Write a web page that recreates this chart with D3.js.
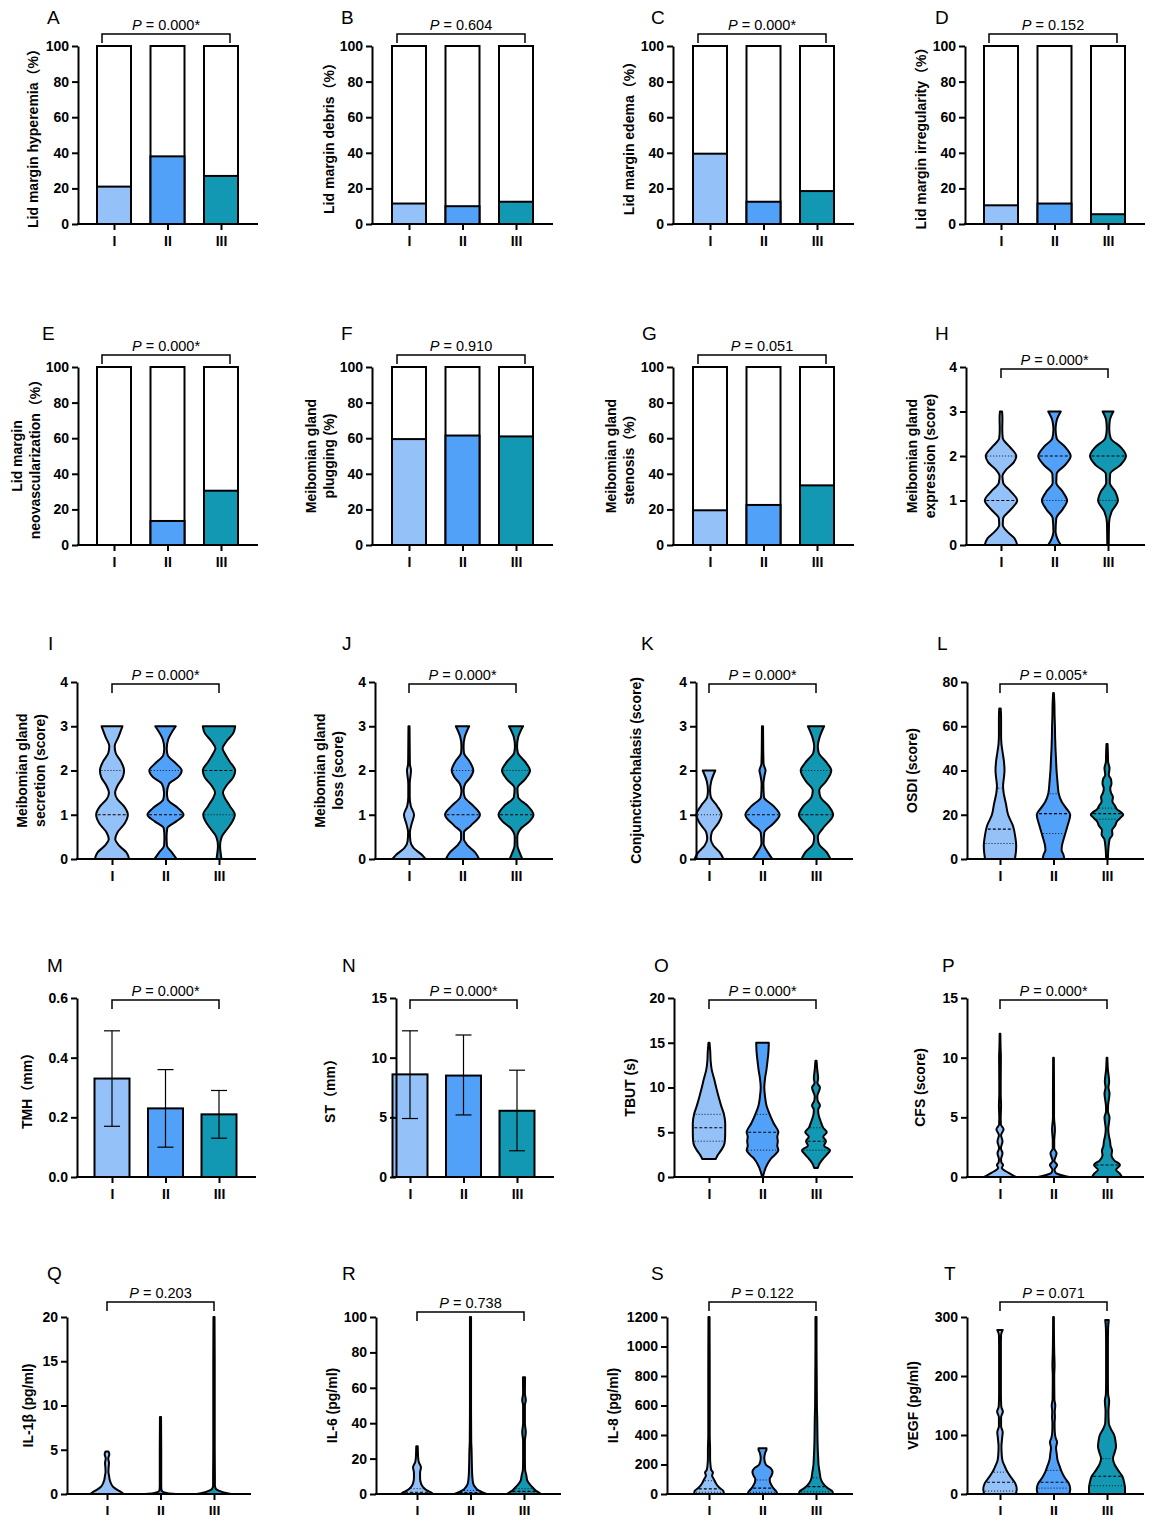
<!DOCTYPE html>
<html>
<head>
<meta charset="utf-8">
<script src="https://cdn.jsdelivr.net/npm/d3@7"></script>
<style>
  body { margin: 0; background: #fff; }
</style>
</head>
<body>
<div id="chart"></div>
<script>
var FONT = "Arial, 'Liberation Sans', 'Noto Sans CJK SC', sans-serif";
var groups = ["I", "II", "III"];
var fills = ["#94C2F8", "#52A1F8", "#1398B3"];

// stacked percentage panels (A-G), coloured part of each 100% bar
var pctHyperemia = [21, 38, 27];
var pctDebris = [11.5, 10, 12.5];
var pctEdema = [39.5, 12.5, 18.5];
var pctIrregularity = [10.5, 11.5, 5.5];
var pctNeovasc = [0, 13.5, 30.5];
var pctPlugging = [59.5, 61.5, 61];
var pctStenosis = [19.5, 22.5, 33.5];

// mean +/- sd bars (M, N)
var tmhMean = [0.33, 0.23, 0.21];
var tmhLow = [0.17, 0.10, 0.13];
var tmhHigh = [0.49, 0.36, 0.29];
var stMean = [8.6, 8.5, 5.55];
var stLow = [4.9, 5.2, 2.2];
var stHigh = [12.25, 11.9, 8.95];

// violin profiles: [value, relative density 0-1] per group
var vioExpression = [
  [[0,0.9],[0.15,0.75],[0.3,0.35],[0.45,0.1],[0.6,0.12],[0.8,0.55],[1,0.9],[1.2,0.55],[1.4,0.12],[1.55,0.08],[1.7,0.3],[1.85,0.7],[2,0.85],[2.2,0.5],[2.4,0.1],[2.6,0.07],[2.85,0.08],[3,0.06]],
  [[0,0.35],[0.15,0.15],[0.3,0.06],[0.6,0.1],[0.8,0.45],[1,0.7],[1.2,0.45],[1.4,0.1],[1.6,0.12],[1.8,0.6],[2,0.9],[2.2,0.6],[2.4,0.12],[2.6,0.06],[2.8,0.12],[3,0.35]],
  [[0,0.04],[0.5,0.06],[0.75,0.2],[1,0.55],[1.2,0.4],[1.4,0.1],[1.6,0.12],[1.8,0.7],[2,1],[2.2,0.7],[2.4,0.15],[2.6,0.07],[2.8,0.1],[3,0.3]]
];
var qExpression = [[null, 1, 2], [1, 2, null], [1, 2, null]];

var vioSecretion = [
  [[0,0.95],[0.15,0.8],[0.3,0.4],[0.45,0.18],[0.6,0.3],[0.8,0.7],[1,0.88],[1.2,0.65],[1.35,0.3],[1.5,0.17],[1.65,0.3],[1.85,0.6],[2,0.67],[2.2,0.5],[2.4,0.2],[2.55,0.15],[2.75,0.35],[3,0.58]],
  [[0,0.62],[0.15,0.35],[0.3,0.08],[0.5,0.06],[0.7,0.1],[0.85,0.6],[1,1],[1.15,0.7],[1.35,0.12],[1.5,0.08],[1.7,0.2],[1.85,0.7],[2,0.9],[2.15,0.6],[2.35,0.12],[2.5,0.07],[2.7,0.15],[3,0.57]],
  [[0,0.14],[0.3,0.06],[0.5,0.15],[0.7,0.5],[0.85,0.75],[1,0.88],[1.2,0.6],[1.4,0.3],[1.5,0.22],[1.65,0.4],[1.85,0.8],[2,0.9],[2.2,0.6],[2.4,0.3],[2.5,0.2],[2.65,0.4],[2.85,0.8],[3,0.9]]
];
var qSecretion = [[null, 1, 2], [null, 1, 2], [1, 2, null]];

var vioLoss = [
  [[0,0.92],[0.1,0.7],[0.25,0.25],[0.4,0.08],[0.6,0.05],[0.8,0.15],[1,0.28],[1.2,0.1],[1.4,0.04],[1.7,0.04],[1.9,0.09],[2,0.11],[2.15,0.05],[2.5,0.04],[3,0.03]],
  [[0,0.92],[0.15,0.7],[0.3,0.3],[0.45,0.08],[0.6,0.08],[0.75,0.45],[1,0.97],[1.2,0.6],[1.4,0.12],[1.55,0.06],[1.7,0.15],[1.85,0.45],[2,0.6],[2.2,0.4],[2.4,0.08],[2.55,0.06],[2.75,0.12],[3,0.37]],
  [[0,0.35],[0.15,0.2],[0.3,0.08],[0.5,0.07],[0.7,0.3],[0.85,0.75],[1,0.97],[1.2,0.65],[1.4,0.12],[1.6,0.08],[1.8,0.5],[2,0.78],[2.2,0.5],[2.4,0.1],[2.55,0.06],[2.75,0.12],[3,0.39]]
];
var qLoss = [[null, null, null], [null, 1, 2], [null, 1, 2]];

var vioConjunctivo = [
  [[0,0.8],[0.15,0.6],[0.3,0.25],[0.45,0.1],[0.6,0.15],[0.8,0.5],[1,0.7],[1.2,0.45],[1.4,0.1],[1.55,0.06],[1.75,0.12],[2,0.35]],
  [[0,0.55],[0.15,0.3],[0.35,0.06],[0.6,0.1],[0.8,0.6],[1,0.95],[1.2,0.6],[1.4,0.08],[1.7,0.05],[1.9,0.12],[2,0.17],[2.15,0.06],[2.5,0.04],[3,0.03]],
  [[0,0.8],[0.15,0.6],[0.35,0.15],[0.5,0.1],[0.7,0.4],[1,0.95],[1.2,0.7],[1.4,0.25],[1.55,0.18],[1.75,0.55],[2,0.85],[2.2,0.55],[2.4,0.15],[2.55,0.1],[2.75,0.2],[3,0.45]]
];
var qConjunctivo = [[1, null, null], [null, 1, null], [null, 1, 2]];

var vioOSDI = [
  [[0,0.83],[3,0.88],[6,0.9],[10,0.85],[15,0.72],[20,0.45],[25,0.33],[30,0.2],[33,0.17],[37,0.22],[40,0.25],[44,0.22],[48,0.15],[52,0.08],[56,0.06],[60,0.06],[64,0.06],[68,0.04]],
  [[0,0.6],[2,0.55],[4,0.45],[6,0.47],[10,0.6],[15,0.78],[20,0.93],[23,0.7],[26,0.45],[30,0.28],[35,0.22],[40,0.17],[45,0.14],[50,0.11],[55,0.09],[60,0.08],[65,0.06],[70,0.05],[75,0.02]],
  [[0,0.05],[5,0.08],[9,0.15],[11,0.3],[13,0.28],[15,0.45],[17,0.55],[19,0.8],[20,0.9],[21,0.8],[22.5,0.55],[24,0.45],[26,0.3],[28,0.33],[30,0.22],[32,0.18],[34,0.25],[36,0.22],[38,0.1],[41,0.14],[44,0.06],[48,0.05],[52,0.03]]
];
var qOSDI = [[7, 13.5, 32], [11.5, 20.5, 29.5], [18, 20.5, 23]];

var vioTBUT = [
  [[2,0.37],[2.5,0.5],[3,0.68],[3.5,0.82],[4,0.88],[5,0.9],[6,0.9],[7,0.83],[8,0.67],[9,0.53],[10,0.4],[11,0.28],[12,0.15],[13,0.09],[14,0.07],[15,0.03]],
  [[0,0.02],[1,0.17],[2,0.45],[2.5,0.7],[3,0.88],[3.5,0.82],[4,0.85],[4.5,0.82],[5,0.88],[6,0.62],[7,0.4],[8,0.22],[9,0.14],[10,0.1],[11,0.14],[12,0.22],[13,0.28],[14,0.33],[15,0.35]],
  [[1,0.1],[1.5,0.2],[2,0.38],[2.5,0.6],[3,0.78],[3.5,0.45],[4,0.55],[4.5,0.4],[5,0.6],[5.5,0.4],[6,0.3],[7,0.14],[7.5,0.12],[8,0.22],[8.5,0.1],[9,0.07],[10,0.22],[10.5,0.08],[11,0.12],[12,0.07],[13,0.03]]
];
var qTBUT = [[4, 5.5, 7], [3, 5, 7], [3, 4, 5.5]];

var vioCFS = [
  [[0,0.88],[0.25,0.6],[0.5,0.3],[0.75,0.1],[1,0.17],[1.25,0.07],[1.5,0.06],[2,0.14],[2.4,0.05],[3,0.14],[3.5,0.06],[4,0.2],[4.4,0.05],[5,0.04],[6,0.06],[7,0.04],[8,0.04],[10,0.05],[11,0.03],[12,0.02]],
  [[0,0.88],[0.15,0.45],[0.35,0.12],[0.6,0.06],[1,0.2],[1.35,0.05],[2,0.17],[2.4,0.04],[3,0.04],[4,0.08],[5,0.03],[7,0.03],[10,0.02]],
  [[0,0.83],[0.3,0.7],[0.6,0.5],[1,0.72],[1.4,0.4],[1.8,0.25],[2.2,0.28],[2.6,0.2],[3,0.17],[3.5,0.1],[4,0.07],[5,0.14],[5.5,0.05],[6,0.06],[7,0.14],[7.5,0.08],[8,0.12],[9,0.05],[10,0.02]]
];
var qCFS = [[null, null, null], [null, null, null], [null, 1, null]];

var vioIL1b = [
  [[0,0.93],[0.2,0.8],[0.5,0.55],[0.8,0.35],[1.2,0.22],[1.6,0.15],[2,0.12],[2.5,0.08],[3,0.09],[3.5,0.11],[4,0.07],[4.5,0.13],[4.8,0.08]],
  [[0,0.85],[0.1,0.4],[0.25,0.12],[0.5,0.05],[1,0.04],[3,0.04],[5,0.04],[8.7,0.03]],
  [[0,0.95],[0.15,0.6],[0.35,0.3],[0.6,0.1],[1,0.05],[2,0.05],[5,0.04],[10,0.04],[15,0.04],[20,0.03]]
];
var qIL1b = [[null, null, null], [null, null, null], [null, null, null]];

var vioIL6 = [
  [[0,0.9],[1,0.75],[2,0.55],[4,0.33],[6,0.22],[9,0.17],[12,0.17],[15,0.22],[18,0.1],[21,0.06],[24,0.05],[27,0.04]],
  [[0,0.9],[1,0.65],[2,0.45],[4,0.25],[6,0.15],[10,0.1],[15,0.08],[20,0.07],[25,0.06],[30,0.04],[50,0.03],[100,0.03]],
  [[0,0.95],[1,0.8],[2,0.65],[4,0.45],[6,0.28],[8,0.17],[10,0.14],[14,0.06],[20,0.05],[30,0.05],[35,0.1],[40,0.05],[50,0.05],[53,0.1],[57,0.05],[66,0.06]]
];
var qIL6 = [[0.5, 1, 3], [0.3, 0.8, 2], [0.5, 1.5, 3]];

var vioIL8 = [
  [[0,0.83],[20,0.8],[40,0.6],[60,0.45],[80,0.35],[100,0.27],[125,0.17],[145,0.22],[165,0.12],[200,0.08],[250,0.06],[300,0.06],[400,0.04],[800,0.04],[1200,0.03]],
  [[0,0.83],[20,0.75],[40,0.6],[60,0.5],[80,0.42],[100,0.4],[125,0.5],[150,0.56],[175,0.45],[200,0.18],[240,0.1],[280,0.15],[300,0.22],[310,0.22]],
  [[0,0.95],[20,0.9],[40,0.65],[60,0.47],[80,0.35],[100,0.27],[150,0.2],[200,0.14],[250,0.12],[300,0.1],[400,0.08],[500,0.07],[600,0.05],[800,0.04],[1000,0.03],[1200,0.03]]
];
var qIL8 = [[12, 35, 90], [12, 40, 95], [15, 50, 110]];

var vioVEGF = [
  [[0,0.88],[8,0.93],[18,0.85],[28,0.62],[38,0.4],[48,0.25],[55,0.15],[65,0.1],[80,0.08],[95,0.12],[105,0.15],[115,0.06],[130,0.06],[140,0.16],[148,0.07],[170,0.05],[200,0.05],[250,0.05],[270,0.06],[278,0.15]],
  [[0,0.88],[8,0.93],[18,0.85],[28,0.62],[38,0.45],[48,0.33],[58,0.22],[68,0.18],[78,0.14],[88,0.2],[95,0.12],[105,0.07],[120,0.06],[130,0.08],[140,0.07],[150,0.1],[160,0.05],[200,0.04],[218,0.06],[240,0.04],[300,0.02]],
  [[0,1],[10,1],[20,0.95],[30,0.85],[40,0.62],[50,0.42],[60,0.33],[70,0.42],[80,0.5],[90,0.47],[100,0.4],[110,0.22],[120,0.1],[140,0.08],[158,0.12],[170,0.06],[200,0.05],[250,0.05],[280,0.06],[295,0.1]]
];
var qVEGF = [[5, 20, 37], [10, 20, 40], [14, 30, 60]];

// tick values
var ticksPct = [0, 20, 40, 60, 80, 100];
var ticksScore = [0, 1, 2, 3, 4];
var ticksOSDI = [0, 20, 40, 60, 80];
var ticksTMH = [0, 0.2, 0.4, 0.6];
var ticksST = [0, 5, 10, 15];
var ticksTBUT = [0, 5, 10, 15, 20];
var ticksCFS = [0, 5, 10, 15];
var ticksIL1b = [0, 5, 10, 15, 20];
var ticksIL6 = [0, 20, 40, 60, 80, 100];
var ticksIL8 = [0, 200, 400, 600, 800, 1000, 1200];
var ticksVEGF = [0, 100, 200, 300];

var pValues = ["0.000*", "0.604", "0.000*", "0.152", "0.000*", "0.910", "0.051", "0.000*",
               "0.000*", "0.000*", "0.000*", "0.005*", "0.000*", "0.000*", "0.000*", "0.000*",
               "0.203", "0.738", "0.122", "0.071"];

// layout
var rowTop = [46, 367, 682, 998, 1317];
var rowBottom = [224, 545, 859, 1177, 1494];
var letterBase = [24, 340, 650, 972, 1280];

var panels = [
  {id: "A", type: "stack", row: 0, vals: pctHyperemia, ticks: ticksPct, axisX: 78, c1: 114, lx: [33], lab: ["Lid margin hyperemia（%）"], letX: 47, br: "stack"},
  {id: "B", type: "stack", row: 0, vals: pctDebris, ticks: ticksPct, axisX: 372, c1: 409, lx: [329], lab: ["Lid margin debris（%）"], letX: 341, br: "stack"},
  {id: "C", type: "stack", row: 0, vals: pctEdema, ticks: ticksPct, axisX: 673, c1: 710, lx: [629], lab: ["Lid margin edema（%）"], letX: 651, br: "stack"},
  {id: "D", type: "stack", row: 0, vals: pctIrregularity, ticks: ticksPct, axisX: 965, c1: 1001, lx: [921], lab: ["Lid margin irregularity（%）"], letX: 935, br: "stack"},
  {id: "E", type: "stack", row: 1, vals: pctNeovasc, ticks: ticksPct, axisX: 78, c1: 114, lx: [17, 35], lab: ["Lid margin", "neovascularization（%）"], letX: 42, br: "stack"},
  {id: "F", type: "stack", row: 1, vals: pctPlugging, ticks: ticksPct, axisX: 372, c1: 409, lx: [311, 329], lab: ["Meibomian gland", "plugging (%)"], letX: 341, br: "stack"},
  {id: "G", type: "stack", row: 1, vals: pctStenosis, ticks: ticksPct, axisX: 673, c1: 710, lx: [611, 629], lab: ["Meibomian gland", "stenosis（%）"], letX: 642, br: "stack"},
  {id: "H", type: "violin", row: 1, vio: vioExpression, q: qExpression, ticks: ticksScore, axisX: 966, c1: 1001, lx: [912, 930], lab: ["Meibomian gland", "expression (score)"], letX: 935, br: "in"},
  {id: "I", type: "violin", row: 2, vio: vioSecretion, q: qSecretion, ticks: ticksScore, axisX: 77, c1: 112, lx: [22, 40], lab: ["Meibomian gland", "secretion (score)"], letX: 48, br: "in"},
  {id: "J", type: "violin", row: 2, vio: vioLoss, q: qLoss, ticks: ticksScore, axisX: 375, c1: 409, lx: [320, 338], lab: ["Meibomian gland", "loss (score)"], letX: 342, br: "in"},
  {id: "K", type: "violin", row: 2, vio: vioConjunctivo, q: qConjunctivo, ticks: ticksScore, axisX: 696, c1: 709, lx: [636], lab: ["Conjunctivochalasis (score)"], letX: 641, br: "in"},
  {id: "L", type: "violin", row: 2, vio: vioOSDI, q: qOSDI, ticks: ticksOSDI, axisX: 967, c1: 1000, lx: [912], lab: ["OSDI (score)"], letX: 937, br: "in"},
  {id: "M", type: "bar", row: 3, mean: tmhMean, lo: tmhLow, hi: tmhHigh, ticks: ticksTMH, fmt: d3.format(".1f"), axisX: 77, c1: 112, lx: [27], lab: ["TMH（mm）"], letX: 47, br: "in"},
  {id: "N", type: "bar", row: 3, mean: stMean, lo: stLow, hi: stHigh, ticks: ticksST, axisX: 396, c1: 410, lx: [330], lab: ["ST（mm）"], letX: 342, br: "in"},
  {id: "O", type: "violin", row: 3, vio: vioTBUT, q: qTBUT, ticks: ticksTBUT, axisX: 674, c1: 709, lx: [630], lab: ["TBUT (s)"], letX: 654, br: "in"},
  {id: "P", type: "violin", row: 3, vio: vioCFS, q: qCFS, ticks: ticksCFS, axisX: 967, c1: 1000, lx: [920], lab: ["CFS (score)"], letX: 942, br: "in"},
  {id: "Q", type: "violin", row: 4, vio: vioIL1b, q: qIL1b, ticks: ticksIL1b, axisX: 67, c1: 107, lx: [28], lab: ["IL-1β (pg/ml)"], letX: 47, br: "high"},
  {id: "R", type: "violin", row: 4, vio: vioIL6, q: qIL6, ticks: ticksIL6, axisX: 376, c1: 417, lx: [332], lab: ["IL-6 (pg/ml)"], letX: 342, br: "mid"},
  {id: "S", type: "violin", row: 4, vio: vioIL8, q: qIL8, ticks: ticksIL8, axisX: 667, c1: 709, lx: [613], lab: ["IL-8 (pg/ml)"], letX: 651, br: "high"},
  {id: "T", type: "violin", row: 4, vio: vioVEGF, q: qVEGF, ticks: ticksVEGF, axisX: 967, c1: 1000, lx: [913], lab: ["VEGF (pg/ml)"], letX: 944, br: "high"}
];

var svg = d3.select("#chart").append("svg")
  .attr("width", 1157).attr("height", 1515)
  .style("font-family", FONT);

var wScale = d3.scaleLinear().domain([0, 1]).range([0, 18]);

function widthAt(prof, v) {
  for (var i = 0; i < prof.length - 1; i++) {
    if (v >= prof[i][0] && v <= prof[i + 1][0]) {
      var t = (v - prof[i][0]) / (prof[i + 1][0] - prof[i][0]);
      return prof[i][1] + t * (prof[i + 1][1] - prof[i][1]);
    }
  }
  return 0;
}

panels.forEach(function(p, pi) {
  var g = svg.append("g");
  var top = rowTop[p.row], bottom = rowBottom[p.row];
  var y = d3.scaleLinear().domain([p.ticks[0], p.ticks[p.ticks.length - 1]]).range([bottom, top]);
  var x = d3.scalePoint().domain(groups).range([p.c1, p.c1 + 107]);

  // marks
  if (p.type === "stack") {
    groups.forEach(function(k, i) {
      g.append("rect").attr("x", x(k) - 17).attr("width", 34)
        .attr("y", y(100)).attr("height", y(0) - y(100))
        .attr("fill", "#fff").attr("stroke", "#000").attr("stroke-width", 2);
      g.append("rect").attr("x", x(k) - 17).attr("width", 34)
        .attr("y", y(p.vals[i])).attr("height", y(0) - y(p.vals[i]))
        .attr("fill", fills[i]).attr("stroke", "#000").attr("stroke-width", 2);
    });
  } else if (p.type === "bar") {
    groups.forEach(function(k, i) {
      g.append("rect").attr("x", x(k) - 17.5).attr("width", 35)
        .attr("y", y(p.mean[i])).attr("height", y(0) - y(p.mean[i]))
        .attr("fill", fills[i]).attr("stroke", "#000").attr("stroke-width", 2);
      g.append("line").attr("x1", x(k)).attr("x2", x(k))
        .attr("y1", y(p.lo[i])).attr("y2", y(p.hi[i]))
        .attr("stroke", "#000").attr("stroke-width", 1.2);
      [p.lo[i], p.hi[i]].forEach(function(v) {
        g.append("line").attr("x1", x(k) - 8).attr("x2", x(k) + 8)
          .attr("y1", y(v)).attr("y2", y(v))
          .attr("stroke", "#000").attr("stroke-width", 1.2);
      });
    });
  } else {
    groups.forEach(function(k, i) {
      var cx = x(k), prof = p.vio[i];
      var area = d3.area().curve(d3.curveMonotoneY)
        .y(d => y(d[0]))
        .x0(d => cx - wScale(d[1]))
        .x1(d => cx + wScale(d[1]));
      g.append("path").attr("d", area(prof))
        .attr("fill", fills[i]).attr("stroke", "#000")
        .attr("stroke-width", 2).attr("stroke-linejoin", "round");
      p.q[i].forEach(function(v, j) {
        if (v === null) return;
        var w = wScale(widthAt(prof, v)) - 1.5;
        if (w <= 0) return;
        g.append("line").attr("x1", cx - w).attr("x2", cx + w)
          .attr("y1", y(v)).attr("y2", y(v))
          .attr("stroke", "#000").attr("stroke-width", j === 1 ? 1.1 : 0.9)
          .attr("stroke-dasharray", j === 1 ? "3,2" : "1,2");
      });
    });
  }

  // y axis
  var ya = d3.axisLeft(y).tickValues(p.ticks).tickSize(6).tickSizeOuter(0).tickPadding(3)
    .tickFormat(p.fmt || d3.format("d"));
  var gy = g.append("g").attr("transform", `translate(${p.axisX},0)`).call(ya)
    .attr("font-family", FONT);
  gy.select(".domain").attr("stroke-width", 2);
  gy.selectAll(".tick line").attr("stroke-width", 2);
  gy.selectAll(".tick text").attr("font-size", 14).attr("font-weight", "bold").attr("fill", "#000");

  // x axis
  var xa = d3.axisBottom(x).tickSize(6).tickPadding(6);
  var gx = g.append("g").attr("transform", `translate(0,${bottom})`).call(xa)
    .attr("font-family", FONT);
  gx.select(".domain").remove();
  gx.selectAll(".tick line").attr("stroke-width", 2);
  gx.selectAll(".tick text").attr("font-size", 14).attr("font-weight", "bold").attr("fill", "#000");
  gx.append("line").attr("x1", p.axisX - 1).attr("x2", p.c1 + 107 + 37)
    .attr("stroke", "#000").attr("stroke-width", 2);

  // y label
  p.lab.forEach(function(t, j) {
    g.append("text")
      .attr("transform", `translate(${p.lx[j]},${(top + bottom) / 2}) rotate(-90)`)
      .attr("text-anchor", "middle").attr("dy", "0.35em")
      .attr("font-size", 14).attr("font-weight", "bold")
      .text(t);
  });

  // panel letter
  g.append("text").attr("x", p.letX).attr("y", letterBase[p.row])
    .attr("font-size", 19).text(p.id);

  // significance bracket
  var bx1 = x("I"), bx2 = x("III"), bt = top + 2;
  if (p.br === "stack") { bx1 -= 12; bx2 += 9; bt = top - 12; }
  if (p.br === "high") bt = top - 15;
  if (p.br === "mid") bt = top - 5;
  g.append("path")
    .attr("d", `M${bx1},${bt + 9}V${bt}H${bx2}V${bt + 9}`)
    .attr("fill", "none").attr("stroke", "#000").attr("stroke-width", 1.5);
  var pt = g.append("text").attr("x", (bx1 + bx2) / 2).attr("y", bt - 4)
    .attr("text-anchor", "middle").attr("font-size", 14.5);
  pt.append("tspan").attr("font-style", "italic").text("P");
  pt.append("tspan").text(" = " + pValues[pi]);
});
</script>
</body>
</html>
